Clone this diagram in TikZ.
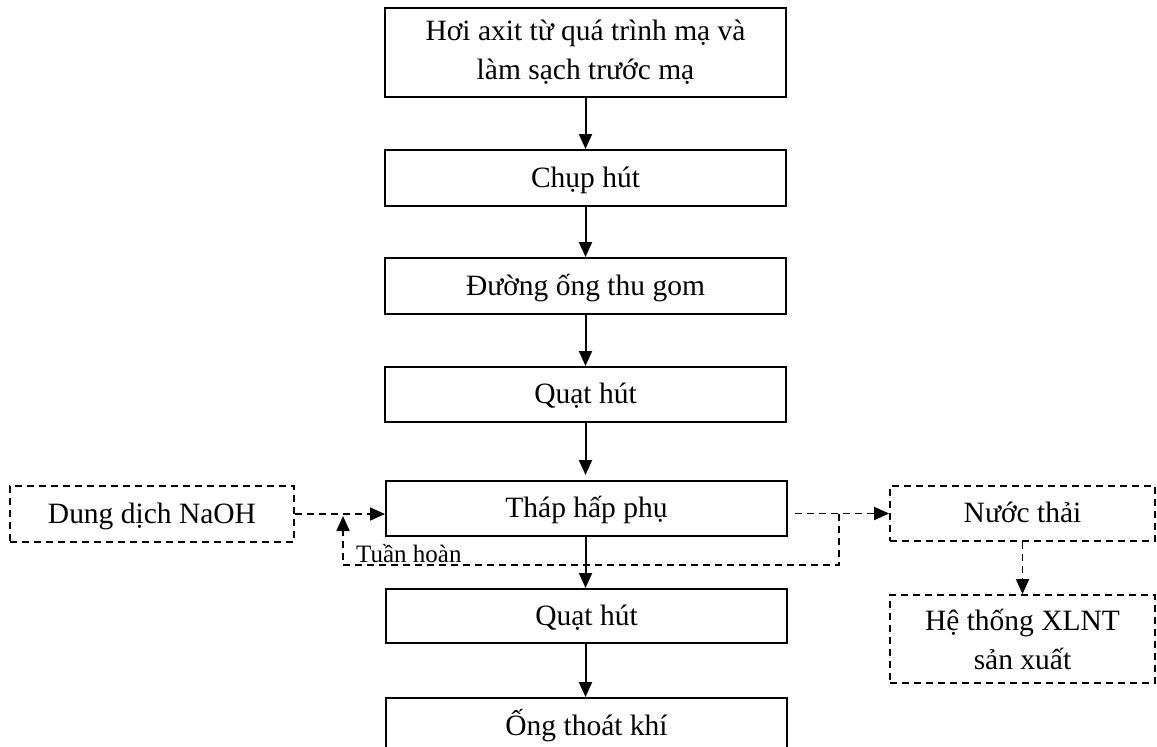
\documentclass[tikz,border=0pt]{standalone}
\usepackage{fontspec}
\setmainfont{Liberation Serif}
\usetikzlibrary{arrows.meta,calc}

\begin{document}
\begin{tikzpicture}[x=1pt,y=-1pt,
  every node/.style={font=\fontsize{29.5}{39}\selectfont},
  stagebox/.style={draw,line width=2pt,rectangle,inner sep=0pt,
    minimum width=401pt,text height=21pt,text depth=3pt},
  sidebox/.style={draw,line width=1.8pt,rectangle,inner sep=0pt,
    dash pattern=on 7pt off 5pt,minimum width=265pt,
    text height=21pt,text depth=3pt},
  flow/.style={line width=2pt,-{Triangle[length=15pt,width=13pt]}},
  dflow/.style={line width=1.8pt,dash pattern=on 7pt off 5pt,
    -{Triangle[length=15pt,width=13pt]}}]

\useasboundingbox (0,0) rectangle (1157,747);
\clip (0,0) rectangle (1157,747);

% main treatment line
\node[stagebox,minimum height=89pt,text height=,text depth=,align=center]
  (src) at (585.5,52) {Hơi axit từ quá trình mạ và\\làm sạch trước mạ};
\node[stagebox,minimum height=56pt] (hood) at (585.5,178) {Chụp hút};
\node[stagebox,minimum height=56pt] (duct) at (585.5,286) {Đường ống thu gom};
\node[stagebox,minimum height=55pt] (fan1) at (585.5,394.5) {Quạt hút};
\node[stagebox,minimum height=55pt] (tower) at (586.5,508.5) {Tháp hấp phụ};
\node[stagebox,minimum height=54pt] (fan2) at (586.5,616) {Quạt hút};
\node[stagebox,minimum height=56pt] (stack) at (586.5,726) {Ống thoát khí};

% side streams
\node[sidebox,minimum width=284pt,minimum height=56pt] (naoh) at (152,514) {Dung dịch NaOH};
\node[sidebox,minimum height=55pt] (waste) at (1022.5,513.5) {Nước thải};
\node[sidebox,minimum height=88pt,text height=,text depth=,align=center]
  (wwtp) at (1022.5,639) {Hệ thống XLNT\\sản xuất};

% solid connectors
\draw[flow] (src) -- (hood);
\draw[flow] (hood) -- (duct);
\draw[flow] (duct) -- (fan1);
\draw[flow,shorten >=5pt] (fan1.south) -- (fan1.south |- tower.north);
\draw[flow] (tower.south -| fan1.south) -- (fan2.north -| fan1.south);
\draw[flow] (fan2.south -| fan1.south) -- (stack.north -| fan1.south);

% dashed connectors
\draw[dflow] (naoh.east) -- (naoh.east -| tower.west);
\draw[dflow,shorten <=7pt] (waste.west -| tower.east) -- (waste.west);
\draw[dflow] (waste.south) -- (wwtp.north);

% recirculation loop
\coordinate (rtop) at (839,514);
\coordinate (rbot) at (839,565);
\coordinate (lbot) at (343,565);
\coordinate (ltop) at (343,516);
\draw[dflow] (rtop) -- (rbot) -- (lbot) -- (ltop);
\node[font=\fontsize{25}{30}\selectfont,anchor=base west,inner sep=0pt]
  (loop) at (356,562) {Tuần hoàn};

\end{tikzpicture}
\end{document}
